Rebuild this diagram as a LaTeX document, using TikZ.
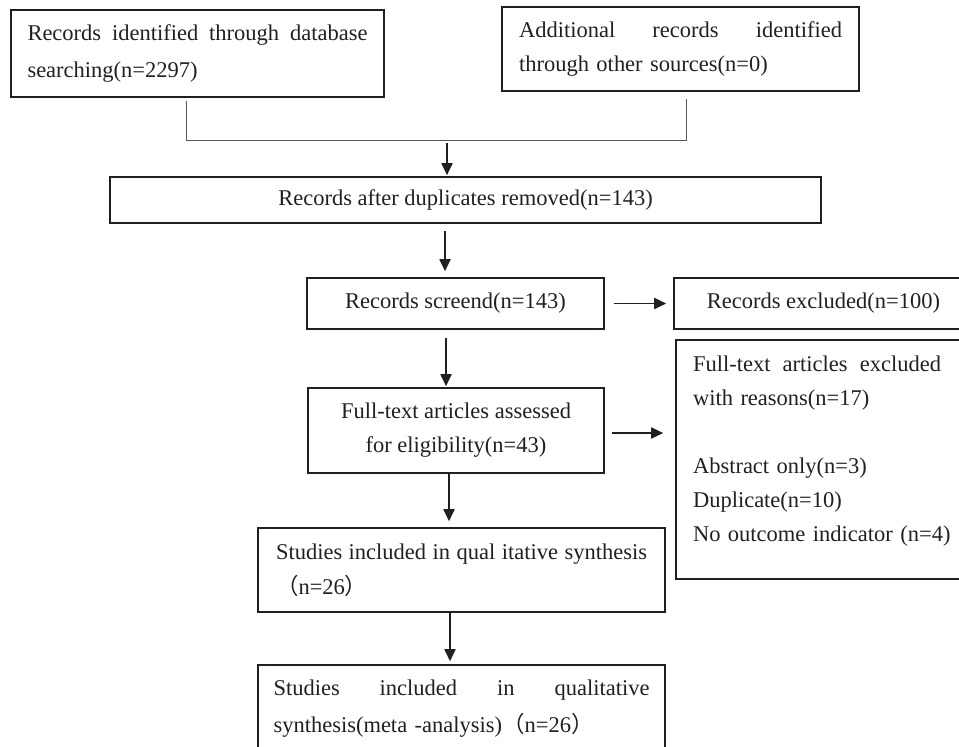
\documentclass[tikz,border=0pt]{standalone}
\usepackage{fontspec}
\setmainfont{Liberation Serif}
\newfontfamily\cjk{Noto Sans CJK SC}
\usetikzlibrary{arrows.meta}
\definecolor{ink}{RGB}{35,31,32}
\newcommand{\jline}[2]{\makebox[#1][l]{#2}}
\begin{document}
\begin{tikzpicture}[x=1pt,y=-1pt,
  box/.style={draw=ink, line width=1.6pt, inner sep=0pt, text=ink},
  fsa/.style={font=\fontsize{22.5}{34}\selectfont},
  fsb/.style={font=\fontsize{22.5}{37}\selectfont},
  fsc/.style={font=\fontsize{22.5}{35}\selectfont},
  arr/.style={draw=ink, line width=1.8pt, -{Triangle[length=12pt,width=11pt]}},
  brk/.style={draw=black!65, line width=1pt}]
\useasboundingbox (0,0) rectangle (959,747);
\clip (0,0) rectangle (959,747);
% boxes
\node[box, fsb, minimum width=373pt, minimum height=87pt, text width=340pt, align=left] (b1) at (197.5,53.5)
  {\jline{340pt}{Records\hfill identified\hfill through\hfill database}\\searching(n=2297)};
\node[box, fsa, minimum width=357pt, minimum height=84pt, text width=323pt, align=left] (b2) at (680.5,49)
  {\jline{323pt}{Additional\hfill records\hfill identified}\\through other sources(n=0)};
\node[box, fsa, minimum width=711pt, minimum height=46pt] (b4) at (465.5,200)
  {Records after duplicates removed(n=143)};
\node[box, fsa, minimum width=297pt, minimum height=51pt] (b5) at (455.5,303.5)
  {Records screend(n=143)};
\node[box, fsa, minimum width=299pt, minimum height=51pt] (b6) at (823.5,303.5)
  {Records excluded(n=100)};
\node[box, fsa, minimum width=296pt, minimum height=85pt, align=center] (b8) at (456,430.5)
  {Full-text articles assessed\\for eligibility(n=43)};
\node[box, fsa, minimum width=299pt, minimum height=239pt, text width=265pt, align=left] (b7) at (825.5,459.5)
  {\jline{248pt}{Full-text\hfill articles\hfill excluded}\\with reasons(n=17)\\[34pt]Abstract only(n=3)\\Duplicate(n=10)\\No outcome indicator (n=4)\\[-13pt]\mbox{}};
\node[box, fsc, minimum width=407pt, minimum height=84pt, text width=371pt, align=left] (b9) at (461.5,570)
  {\jline{371pt}{Studies\hfill included\hfill in\hfill qual\hfill itative\hfill synthesis}\\{\cjk （}n=26{\cjk ）}};
\node[box, fsb, minimum width=407pt, minimum height=87pt, text width=376pt, align=left] (b10) at (461.5,708.5)
  {\jline{376pt}{Studies\hfill included\hfill in\hfill qualitative}\\synthesis(meta -analysis){\cjk （}n=26{\cjk ）}};
% helper coordinates
\coordinate (bx1) at (186,140);
\coordinate (bx2) at (686,140);
\coordinate (m0) at (447,140);
\coordinate (ax1) at (445,0);
\coordinate (ax2) at (446,0);
\coordinate (ax3) at (449,0);
\coordinate (ax4) at (450,0);
\coordinate (ay4) at (0,433);
% connectors
\draw[brk, shorten <=3pt, shorten >=7pt] (b1.south -| bx1) -- (bx1) -- (bx2) -- (b2.south -| bx2);
\draw[arr, shorten <=3pt, shorten >=1pt] (m0) -- (m0 |- b4.north);
\draw[arr, shorten <=7pt, shorten >=6pt] (b4.south -| ax1) -- (b5.north -| ax1);
\draw[arr, shorten <=9pt, shorten >=7pt] (b5.east) -- (b6.west);
\draw[arr, shorten <=8pt, shorten >=1pt] (b5.south -| ax2) -- (b8.north -| ax2);
\draw[arr, shorten <=7pt, shorten >=12pt] (b8.east |- ay4) -- (b7.west |- ay4);
\draw[arr, shorten >=6pt] (b8.south -| ax3) -- (b9.north -| ax3);
\draw[arr, shorten >=3pt] (b9.south -| ax4) -- (b10.north -| ax4);
\end{tikzpicture}
\end{document}
